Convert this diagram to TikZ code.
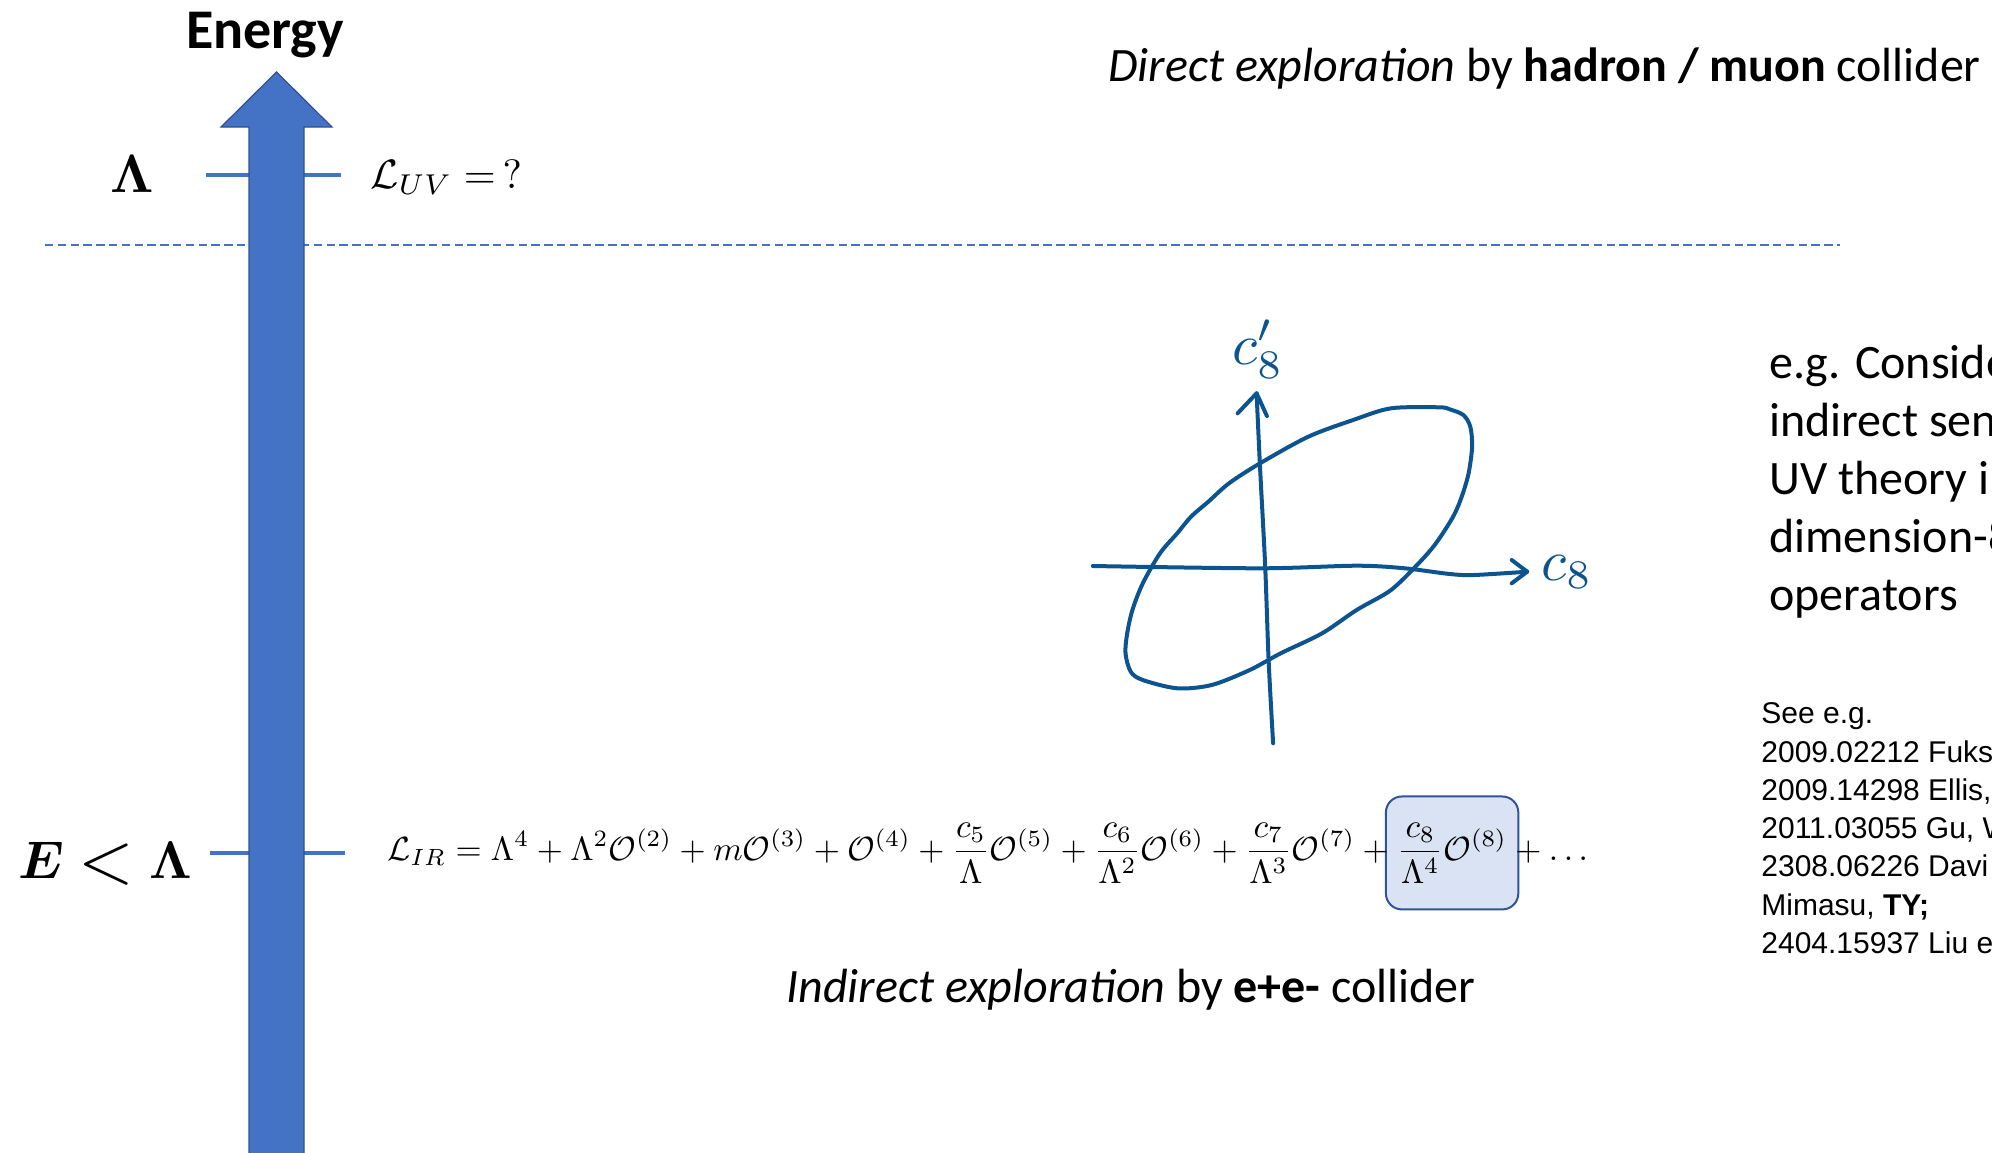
\documentclass[tikz,border=0pt]{standalone}
\usepackage{fontspec}
\usepackage{amsmath}
\usetikzlibrary{fit,backgrounds}
\newfontfamily\calib{Carlito}
\newfontfamily\reffont{Liberation Sans}
\definecolor{arrowblue}{HTML}{4472C4}
\definecolor{arrowedge}{HTML}{2F528F}
\definecolor{penblue}{RGB}{12,84,144}
\definecolor{boxfill}{HTML}{DAE3F3}
\definecolor{boxedge}{HTML}{2F5597}
\begin{document}
\begin{tikzpicture}[x=0.5pt,y=-0.5pt,
  tickline/.style={draw=arrowblue,line width=2pt},
  dashline/.style={draw=arrowblue,line width=0.8pt,dash pattern=on 4.2pt off 2.2pt},
  penline/.style={draw=penblue,line width=2pt,line cap=round,line join=round},
  bigtxt/.style={font=\calib\fontsize{24}{29}\selectfont,inner sep=0pt},
  paratxt/.style={font=\calib\fontsize{24}{29}\selectfont,inner sep=0pt,anchor=base west},
  reftxt/.style={font=\reffont\fontsize{15}{18}\selectfont,inner sep=0pt,anchor=base west},
  mathtxt/.style={inner sep=0pt,anchor=base west}]
\useasboundingbox (0,0) rectangle (1992,1152);
\clip (0,0) rectangle (1992,1152);

% level ticks and dashed separator (behind arrow)
\draw[tickline] (206,175) -- (341,175);
\draw[tickline] (210,853) -- (345,853);
\draw[dashline] (45,245) -- (1840,245);

% energy arrow
\filldraw[fill=arrowblue,draw=arrowedge,line width=0.6pt]
  (249,1160) -- (249,127) -- (221,127) -- (276.5,72) -- (332,127) -- (304,127) -- (304,1160) -- cycle;

\node[font=\calib\bfseries\fontsize{28}{34}\selectfont,anchor=base,inner sep=0pt] (energy) at (265,48) {Energy};

\node[mathtxt] (lam) at (110,192) {\scalebox{2.7}{$\boldsymbol{\Lambda}$}};
\node[mathtxt] (luv) at (370,188) {\scalebox{2.05}{$\mathcal{L}_{UV} =\,?$}};
\node[mathtxt] (elam) at (18,878) {\scalebox{2.65}{$\boldsymbol{E} \mathrel{\raisebox{-0.9pt}{\scalebox{1.35}{$<$}}} \boldsymbol{\Lambda}$}};

\node[bigtxt,anchor=base west] (direct) at (1108,81) {\textit{Direct exploration} by \textbf{hadron / muon} collider};
\node[bigtxt,anchor=base west] (indirect) at (786,1002) {\textit{Indirect exploration} by \textbf{e+e-} collider};

% effective Lagrangian
\node[mathtxt] (eqA) at (387,860) {\scalebox{1.677}{$\displaystyle \mathcal{L}_{IR} = \Lambda^4 + \Lambda^2\mathcal{O}^{(2)} + m\mathcal{O}^{(3)} + \mathcal{O}^{(4)} + \frac{c_5}{\Lambda}\mathcal{O}^{(5)} + \frac{c_6}{\Lambda^2}\mathcal{O}^{(6)} + \frac{c_7}{\Lambda^3}\mathcal{O}^{(7)} + {}$}};
\node[mathtxt] (eqB) at (eqA.base east) {\scalebox{1.677}{$\displaystyle \frac{c_8}{\Lambda^4}\mathcal{O}^{(8)}$}};
\node[mathtxt] (eqC) at (eqB.base east) {\scalebox{1.677}{$\displaystyle {} + \dots$}};
\begin{scope}[on background layer]
  \node[fit=(eqB),rounded corners=8pt,fill=boxfill,draw=boxedge,line width=1pt,inner xsep=5.4pt,inner ysep=13pt] (c8box) {};
\end{scope}

% hand-drawn sketch
\draw[penline] plot[smooth] coordinates {(1092.8,566) (1260,568.3) (1356.6,565.7) (1404.8,568.3) (1449.7,574) (1473.8,575) (1527.2,571.7)};
\draw[penline] (1511.7,560) -- (1527.2,571.7) -- (1511.7,583.3);
\draw[penline] plot[smooth] coordinates {(1273.1,743.3) (1268.6,660) (1265.2,566.7) (1260,466.7) (1256.6,393.3)};
\draw[penline] (1237.6,413.3) -- (1256.6,393.3) -- (1266.9,416);
\draw[penline] plot[smooth cycle] coordinates {
 (1439.3,407.3) (1391.0,408.3) (1353.1,420) (1308.3,436.7) (1260,463.3) (1229,483.3)
 (1208.3,501.7) (1191,516.7) (1177.2,533.3) (1160,553.3) (1142.8,583.3) (1132.4,610)
 (1127.2,633.3) (1125.5,653.3) (1130.7,671.7) (1142.8,680) (1177.2,688.3) (1211.7,685)
 (1249.7,670) (1280.7,653.3) (1322.1,633.3) (1356.6,610) (1391,590) (1418.6,563.3)
 (1435.9,543.3) (1453.1,516.7) (1461.7,496.7) (1468.6,473.3) (1472.1,446.7) (1470.3,426.7)
 (1463.4,415) (1449.7,409.3)};
\node[mathtxt,text=penblue] (c8) at (1541,580) {\scalebox{2.9}{$c_8$}};
\node[mathtxt,text=penblue] (c8p) at (1232,364) {\scalebox{2.9}{$c_8'$}};

% right-hand paragraph
\node[paratxt] (rp1) at (1769,378) {e.g. Conside};
\node[paratxt] (rp2) at (1769,436) {indirect sen};
\node[paratxt] (rp3) at (1769,494) {UV theory in};
\node[paratxt] (rp4) at (1769,552) {dimension-8};
\node[paratxt] (rp5) at (1769,610) {operators};

% references
\node[reftxt] (r1) at (1761,723) {See e.g.};
\node[reftxt] (r2) at (1761,762) {2009.02212 Fuks};
\node[reftxt] (r3) at (1761,800) {2009.14298 Ellis,};
\node[reftxt] (r4) at (1761,838) {2011.03055 Gu, W};
\node[reftxt] (r5) at (1761,876) {2308.06226 Davi};
\node[reftxt] (r6) at (1761,915) {Mimasu, \textbf{TY;}};
\node[reftxt] (r7) at (1761,953) {2404.15937 Liu e};
\end{tikzpicture}
\end{document}
